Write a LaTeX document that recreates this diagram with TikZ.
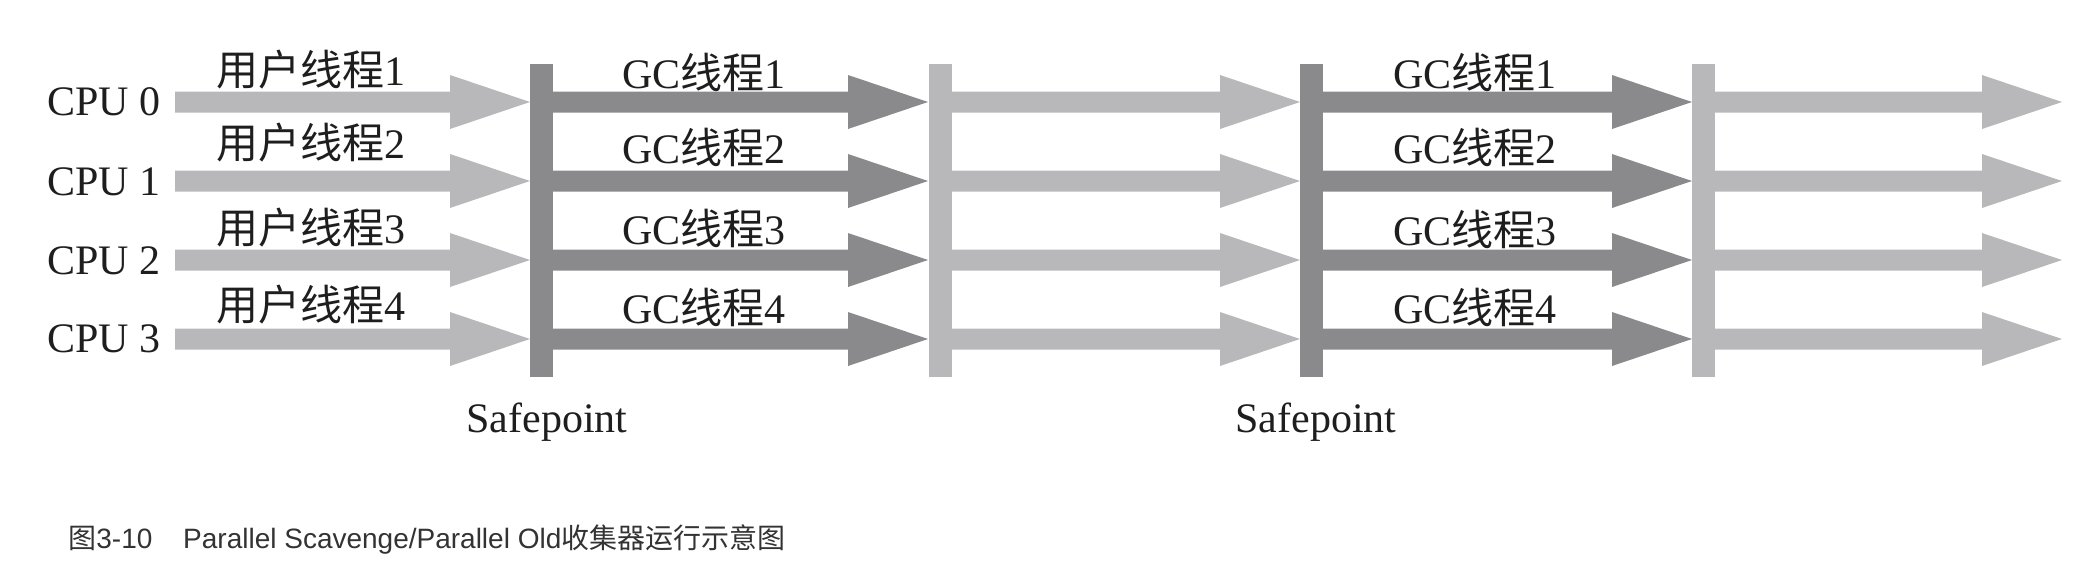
\documentclass[tikz,border=0pt]{standalone}
\usepackage{fontspec}
\setmainfont{Liberation Serif}
\newfontfamily\cjk{Noto Sans CJK SC}
\newfontfamily\capfont{Liberation Sans}
\definecolor{darkg}{HTML}{8A8A8C}
\definecolor{lightg}{HTML}{B8B8BA}
\definecolor{txt}{HTML}{1E1E1E}
\definecolor{captxt}{HTML}{333333}
\newcommand\harrow[4]{% colour, x start, x tip, y
  \fill[#1] ({#2},{#4-10.5}) -- ({#3-80},{#4-10.5}) -- ({#3-80},{#4-27}) -- ({#3},{#4})
    -- ({#3-80},{#4+27}) -- ({#3-80},{#4+10.5}) -- ({#2},{#4+10.5}) -- cycle;}
\begin{document}
\begin{tikzpicture}[x=0.5pt,y=-0.5pt,
  lbl/.style={inner sep=0pt,text=txt,font=\fontsize{21pt}{25pt}\selectfont},
  caption/.style={inner sep=0pt,text=captxt,font=\capfont\fontsize{14pt}{17pt}\selectfont},
  darkbar/.style={fill=darkg,inner sep=0pt,minimum width=11.5pt,minimum height=156.5pt},
  lightbar/.style={fill=lightg,inner sep=0pt,minimum width=11.5pt,minimum height=156.5pt}]
\useasboundingbox (0,0) rectangle (2098,578);
% arrows
\foreach \y in {102,181,260,339}{
  \harrow{lightg}{175}{530}{\y}
  \harrow{darkg}{553}{928}{\y}
  \harrow{lightg}{952}{1300}{\y}
  \harrow{darkg}{1322}{1692}{\y}
  \harrow{lightg}{1715}{2062}{\y}
}
% bars
\node[darkbar]  (sp1) at (541.5,220.5) {};
\node[lightbar] (e1)  at (940,220.5) {};
\node[darkbar]  (sp2) at (1311,220.5) {};
\node[lightbar] (e2)  at (1703.5,220.5) {};
% CPU labels
\node[lbl,anchor=east] (c0) at (161,102) {CPU 0};
\node[lbl,anchor=east] (c1) at (161,182) {CPU 1};
\node[lbl,anchor=east] (c2) at (161,261) {CPU 2};
\node[lbl,anchor=east] (c3) at (161,339) {CPU 3};
% user thread labels
\node[lbl] (u1) at (311,70)  {{\cjk 用户线程}1};
\node[lbl] (u2) at (311,143) {{\cjk 用户线程}2};
\node[lbl] (u3) at (311,228) {{\cjk 用户线程}3};
\node[lbl] (u4) at (311,305) {{\cjk 用户线程}4};
% GC thread labels
\node[lbl] (g11) at (704,72)  {GC{\cjk 线程}1};
\node[lbl] (g12) at (704,147) {GC{\cjk 线程}2};
\node[lbl] (g13) at (704,228) {GC{\cjk 线程}3};
\node[lbl] (g14) at (704,307) {GC{\cjk 线程}4};
\node[lbl] (g21) at (1475,72)  {GC{\cjk 线程}1};
\node[lbl] (g22) at (1475,147) {GC{\cjk 线程}2};
\node[lbl] (g23) at (1475,229) {GC{\cjk 线程}3};
\node[lbl] (g24) at (1475,307) {GC{\cjk 线程}4};
% safepoint labels
\node[lbl,anchor=base] (s1) at (547,432) {Safepoint};
\node[lbl,anchor=base] (s2) at (1316,432) {Safepoint};
% caption
\node[caption,anchor=base west] (cap) at (68,548) {{\cjk 图}3-10\hspace{1.1em}Parallel Scavenge/Parallel Old{\cjk 收集器运行示意图}};
\end{tikzpicture}
\end{document}
